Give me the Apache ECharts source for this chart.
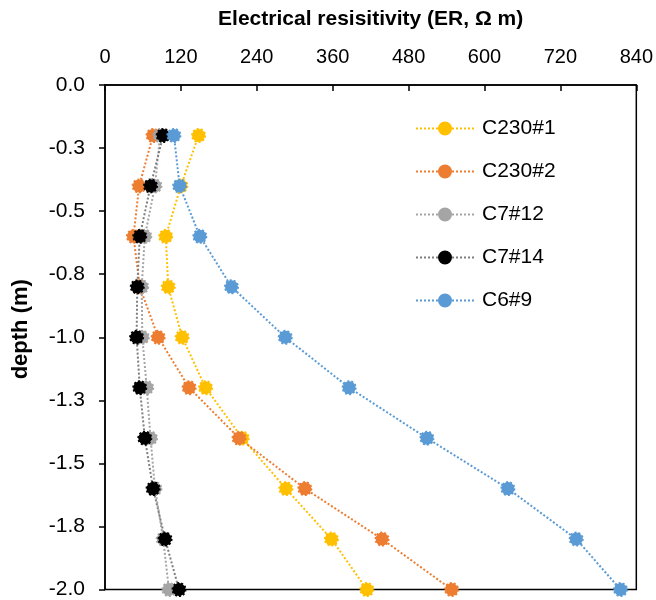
<!DOCTYPE html>
<html>
<head>
    <meta charset="utf-8">
    <title>Electrical resistivity vs depth</title>
    <script src="https://cdn.jsdelivr.net/npm/echarts@6/dist/echarts.min.js"></script>
    <style>
        html, body { margin: 0; padding: 0; background: #fff; }
        #chart { width: 656px; height: 600px; }
    </style>
</head>
<body>
    <div id="chart"></div>
    <script>
        // depth of each measurement (m)
        const depths = [-0.2, -0.4, -0.6, -0.8, -1.0, -1.2, -1.4, -1.6, -1.8, -2.0];

        // ER values (Ω m) per sample
        const c230_1 = [148, 120, 96, 100, 122, 159, 217, 286, 358, 414];
        const c230_2 = [76, 54, 45, 55, 84, 133, 212, 316, 438, 548];
        const c7_12 = [87, 79, 63, 58, 59, 66, 72, 79, 92, 101];
        const c7_14 = [92, 72, 55, 51, 50, 55, 63, 76, 95, 117];
        const c6_9 = [109, 118, 150, 200, 285, 386, 509, 637, 745, 815];

        // y tick labels (ticks every 0.25 m, shown with one decimal)
        const depthLabels = ['0.0', '-0.3', '-0.5', '-0.8', '-1.0', '-1.3', '-1.5', '-1.8', '-2.0'];

        const font = 'Liberation Sans, Arial, Helvetica, sans-serif';

        function makeSeries(name, values, color, lineColor) {
            return {
                name: name,
                type: 'line',
                data: values.map((v, i) => [v, depths[i]]),
                symbol: 'circle',
                symbolSize: 13,
                itemStyle: {
                    color: color,
                    borderColor: color,
                    borderWidth: 2,
                    borderType: 'dotted'
                },
                lineStyle: {
                    color: lineColor || color,
                    width: 2,
                    type: 'dotted'
                }
            };
        }

        const chart = echarts.init(document.getElementById('chart'));
        chart.setOption({
            animation: false,
            textStyle: { fontFamily: font },
            grid: {
                left: 105,
                right: 18,
                top: 85,
                bottom: 10,
                show: true,
                borderColor: '#000',
                borderWidth: 1.5,
                backgroundColor: 'transparent'
            },
            legend: {
                orient: 'vertical',
                left: 415,
                top: 118,
                padding: 0,
                itemWidth: 58,
                itemHeight: 15,
                itemGap: 22,
                textStyle: { fontSize: 21, color: '#000', fontFamily: font, lineHeight: 21, padding: [0, 0, 0, 3] },
                data: ['C230#1', 'C230#2', 'C7#12', 'C7#14', 'C6#9']
            },
            xAxis: {
                type: 'value',
                position: 'top',
                min: 0,
                max: 840,
                interval: 120,
                name: 'Electrical resisitivity (ER, Ω m)',
                nameLocation: 'middle',
                nameGap: 55,
                nameTextStyle: { fontSize: 21, fontWeight: 'bold', color: '#000', fontFamily: font },
                axisLine: { show: true, lineStyle: { color: '#000', width: 1.5 } },
                axisTick: { show: true, inside: true, length: 6, lineStyle: { color: '#000', width: 1.5 } },
                axisLabel: { fontSize: 20, color: '#000', margin: 18, fontFamily: font },
                splitLine: { show: false }
            },
            yAxis: {
                type: 'value',
                min: -2,
                max: 0,
                interval: 0.25,
                name: 'depth (m)',
                nameLocation: 'middle',
                nameGap: 73,
                nameRotate: 90,
                nameTextStyle: { fontSize: 22, fontWeight: 'bold', color: '#000', fontFamily: font, padding: [0, 0, 0, 16] },
                axisLine: { show: true, lineStyle: { color: '#000', width: 1.5 } },
                axisTick: { show: true, inside: false, length: 6, lineStyle: { color: '#000', width: 1.5 } },
                axisLabel: {
                    fontSize: 21,
                    color: '#000',
                    margin: 20,
                    fontFamily: font,
                    formatter: v => depthLabels[Math.round(-v / 0.25)]
                },
                splitLine: { show: false }
            },
            series: [
                makeSeries('C230#1', c230_1, '#FFC000'),
                makeSeries('C230#2', c230_2, '#ED7D31'),
                makeSeries('C7#12', c7_12, '#A5A5A5'),
                makeSeries('C7#14', c7_14, '#000000', '#7F7F7F'),
                makeSeries('C6#9', c6_9, '#5B9BD5')
            ]
        });
    </script>
</body>
</html>
